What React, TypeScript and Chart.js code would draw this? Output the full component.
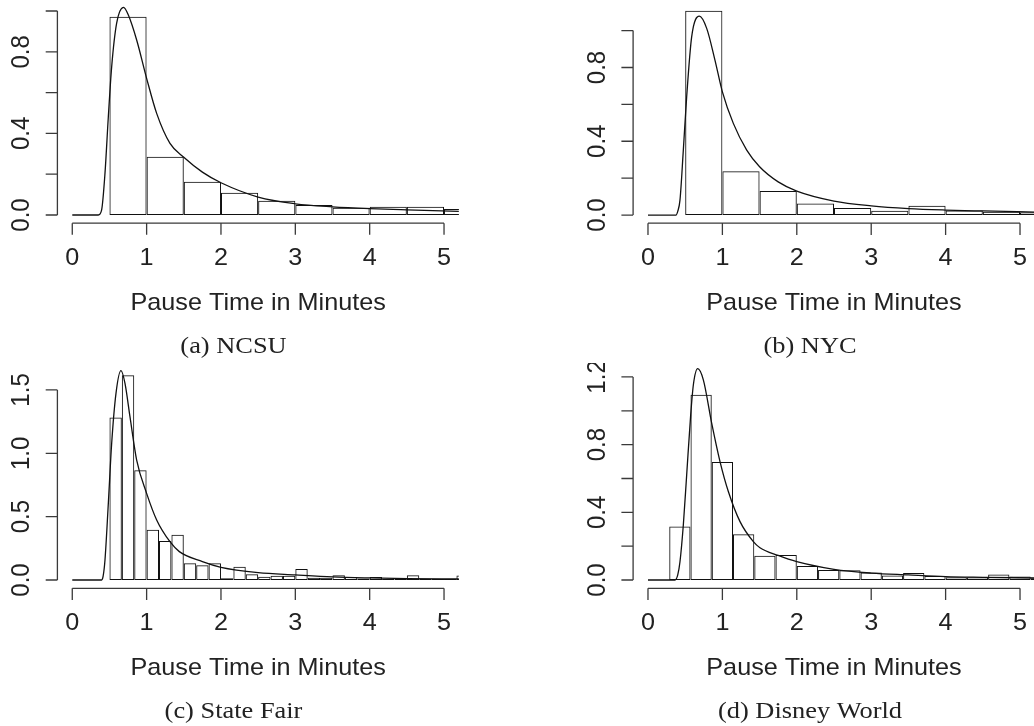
import React, { useEffect, useRef } from "react";
import { Chart, registerables } from "chart.js";

Chart.register(...registerables);

// ---------- shared axis data ----------
const X_MIN = -0.2;
const X_MAX = 5.2;
const xTicks = [0, 1, 2, 3, 4, 5];
const xTickLabels = ["0", "1", "2", "3", "4", "5"];
const xTitle = "Pause Time in Minutes";

// ---------- (a) NCSU ----------
const ncsuBinWidth = 0.5;
const ncsuBinStarts = [0.5, 1.0, 1.5, 2.0, 2.5, 3.0, 3.5, 4.0, 4.5, 5.0];
const ncsuDensity = [0.972, 0.286, 0.163, 0.109, 0.07, 0.049, 0.036, 0.041, 0.041, 0.03];
const ncsuCurveX = [0, 0.35, 0.395, 0.44, 0.485, 0.53, 0.597, 0.69, 0.754, 0.866, 1.0, 1.135, 1.314, 1.5, 1.75, 2.0, 2.5, 3.0, 3.5, 4.0, 4.5, 5.2];
const ncsuCurveY = [0, 0, 0.025, 0.204, 0.482, 0.727, 0.94, 1.018, 0.98, 0.858, 0.67, 0.498, 0.351, 0.283, 0.21, 0.158, 0.088, 0.055, 0.04, 0.031, 0.025, 0.018];
const ncsuYTicks = [0, 0.2, 0.4, 0.6, 0.8, 1.0];
const ncsuYLabels = ["0.0", "", "0.4", "", "0.8", ""];

// ---------- (b) NYC ----------
const nycBinWidth = 0.5;
const nycBinStarts = [0.5, 1.0, 1.5, 2.0, 2.5, 3.0, 3.5, 4.0, 4.5, 5.0];
const nycDensity = [1.107, 0.238, 0.13, 0.063, 0.038, 0.023, 0.05, 0.025, 0.018, 0.015];
const nycCurveX = [0, 0.376, 0.4, 0.43, 0.475, 0.52, 0.587, 0.69, 0.789, 0.9, 1.0, 1.147, 1.327, 1.5, 1.75, 2.0, 2.5, 3.0, 3.5, 4.0, 4.5, 5.2];
const nycCurveY = [0, 0, 0.02, 0.081, 0.352, 0.641, 0.966, 1.078, 1.012, 0.84, 0.668, 0.497, 0.352, 0.262, 0.18, 0.13, 0.076, 0.05, 0.035, 0.027, 0.022, 0.016];
const nycYTicks = [0, 0.2, 0.4, 0.6, 0.8, 1.0];
const nycYLabels = ["0.0", "", "0.4", "", "0.8", ""];

// ---------- (c) State Fair ----------
const fairBinWidth = 1 / 6;
const fairDensity = [
  1.282, 1.616, 0.866, 0.397, 0.308, 0.358, 0.132, 0.116, 0.132,
  0.013, 0.105, 0.045, 0.026, 0.034, 0.034, 0.087, 0.018, 0.018,
  0.037, 0.024, 0.011, 0.024, 0.008, 0.008, 0.037, 0.008, 0.008,
  0.008, 0.036,
];
const fairFirstBreak = 0.5;
const fairCurveX = [0, 0.395, 0.415, 0.44, 0.485, 0.53, 0.588, 0.655, 0.709, 0.776, 0.866, 1.0, 1.135, 1.314, 1.44, 1.75, 2.0, 2.5, 3.0, 3.5, 4.0, 4.5, 5.2];
const fairCurveY = [0, 0, 0.03, 0.158, 0.605, 1.079, 1.473, 1.652, 1.552, 1.289, 0.947, 0.684, 0.474, 0.302, 0.224, 0.145, 0.1, 0.058, 0.04, 0.024, 0.016, 0.011, 0.008];
const fairYTicks = [0, 0.5, 1.0, 1.5];
const fairYLabels = ["0.0", "0.5", "1.0", "1.5"];

// ---------- (d) Disney World ----------
const disneyBinWidth = 2 / 7;
const disneyFirstBreak = 2 / 7;
const disneyDensity = [
  0.316, 1.095, 0.698, 0.27, 0.144, 0.148, 0.083, 0.059, 0.057,
  0.045, 0.026, 0.041, 0.024, 0.016, 0.016, 0.032, 0.02, 0.01,
];
const disneyCurveX = [0, 0.363, 0.4, 0.43, 0.475, 0.52, 0.574, 0.61, 0.668, 0.744, 0.856, 0.968, 1.08, 1.237, 1.416, 1.505, 1.75, 2.0, 2.5, 3.0, 3.5, 4.0, 4.5, 5.2];
const disneyCurveY = [0, 0, 0.03, 0.108, 0.325, 0.621, 0.976, 1.154, 1.249, 1.183, 0.927, 0.7, 0.523, 0.345, 0.227, 0.191, 0.145, 0.108, 0.063, 0.041, 0.03, 0.02, 0.016, 0.012];
const disneyYTicks = [0, 0.2, 0.4, 0.6, 0.8, 1.0, 1.2];
const disneyYLabels = ["0.0", "", "0.4", "", "0.8", "", "1.2"];

// ---------- styles ----------
const SANS = '"Liberation Sans", Arial, Helvetica, sans-serif';
const SERIF = '"Liberation Serif", "Times New Roman", Times, serif';
const AXIS_COLOR = "#3a3a3a";
const INK = "#111";
const TEXT_COLOR = "#222";
const TICK_LEN = 11.7;
const FONT_PX = 24;
const CAP_PX = 24;
const H_STRETCH = 1.05;
const CAP_STRETCH = 1.1;

type PanelCfg = {
  left: number;
  top: number;
  width: number;
  height: number;
  pad: { left: number; right: number; top: number; bottom: number };
  yMin: number;
  yMax: number;
  binStarts: number[];
  binWidth: number;
  density: number[];
  curveX: number[];
  curveY: number[];
  yTicks: number[];
  yLabels: string[];
  caption: string;
  captionX: number;
};

const uniformStarts = (first: number, w: number, n: number) =>
  Array.from({ length: n }, (_, i) => first + i * w);

const panels: PanelCfg[] = [
  {
    left: 0, top: 0, width: 517, height: 363,
    pad: { left: 57.4, right: 58.1, top: 2.84, bottom: 139.84 },
    yMin: -0.04, yMax: 1.04,
    binStarts: ncsuBinStarts, binWidth: ncsuBinWidth, density: ncsuDensity,
    curveX: ncsuCurveX, curveY: ncsuCurveY,
    yTicks: ncsuYTicks, yLabels: ncsuYLabels,
    caption: "(a) NCSU", captionX: 233.5,
  },
  {
    left: 517, top: 0, width: 520, height: 363,
    pad: { left: 116.1, right: 2.1, top: 2.76, bottom: 139.8 },
    yMin: -0.0443, yMax: 1.151,
    binStarts: nycBinStarts, binWidth: nycBinWidth, density: nycDensity,
    curveX: nycCurveX, curveY: nycCurveY,
    yTicks: nycYTicks, yLabels: nycYLabels,
    caption: "(b) NYC", captionX: 293,
  },
  {
    left: 0, top: 363, width: 517, height: 363,
    pad: { left: 57.4, right: 58.1, top: 4.9, bottom: 137.7 },
    yMin: -0.0655, yMax: 1.674,
    binStarts: uniformStarts(fairFirstBreak, fairBinWidth, fairDensity.length),
    binWidth: fairBinWidth, density: fairDensity,
    curveX: fairCurveX, curveY: fairCurveY,
    yTicks: fairYTicks, yLabels: fairYLabels,
    caption: "(c) State Fair", captionX: 233.5,
  },
  {
    left: 517, top: 363, width: 520, height: 363,
    pad: { left: 116.1, right: 2.1, top: 4.9, bottom: 137.7 },
    yMin: -0.049, yMax: 1.2535,
    binStarts: uniformStarts(disneyFirstBreak, disneyBinWidth, disneyDensity.length),
    binWidth: disneyBinWidth, density: disneyDensity,
    curveX: disneyCurveX, curveY: disneyCurveY,
    yTicks: disneyYTicks, yLabels: disneyYLabels,
    caption: "(d) Disney World", captionX: 293,
  },
];

function stretchedText(ctx: CanvasRenderingContext2D, text: string, x: number, y: number, sx: number) {
  ctx.save();
  ctx.translate(x, y);
  ctx.scale(sx, 1);
  ctx.fillText(text, 0, 0);
  ctx.restore();
}

function makeAxesPlugin(p: PanelCfg) {
  return {
    id: "rAxes",
    afterDraw(chart: any) {
      const ctx: CanvasRenderingContext2D = chart.ctx;
      const xs = chart.scales.x;
      const ys = chart.scales.y;
      const axLeft = xs.getPixelForValue(X_MIN);
      const axBottom = ys.getPixelForValue(p.yMin);
      ctx.save();
      ctx.strokeStyle = AXIS_COLOR;
      ctx.lineWidth = 1.3;
      ctx.beginPath();
      // y axis
      ctx.moveTo(axLeft, ys.getPixelForValue(p.yTicks[0]));
      ctx.lineTo(axLeft, ys.getPixelForValue(p.yTicks[p.yTicks.length - 1]));
      p.yTicks.forEach((t) => {
        const y = ys.getPixelForValue(t);
        ctx.moveTo(axLeft - TICK_LEN, y);
        ctx.lineTo(axLeft, y);
      });
      // x axis
      ctx.moveTo(xs.getPixelForValue(xTicks[0]), axBottom);
      ctx.lineTo(xs.getPixelForValue(xTicks[xTicks.length - 1]), axBottom);
      xTicks.forEach((t) => {
        const x = xs.getPixelForValue(t);
        ctx.moveTo(x, axBottom);
        ctx.lineTo(x, axBottom + TICK_LEN);
      });
      ctx.stroke();

      ctx.fillStyle = TEXT_COLOR;
      ctx.font = `${FONT_PX}px ${SANS}`;
      ctx.textAlign = "center";
      ctx.textBaseline = "alphabetic";
      xTicks.forEach((t, i) => {
        stretchedText(ctx, xTickLabels[i], xs.getPixelForValue(t), axBottom + 41.8, H_STRETCH);
      });
      p.yTicks.forEach((t, i) => {
        const lab = p.yLabels[i];
        if (!lab) return;
        ctx.save();
        ctx.translate(axLeft - 28.1, ys.getPixelForValue(t));
        ctx.scale(H_STRETCH, 1);
        ctx.rotate(-Math.PI / 2);
        ctx.fillText(lab, 0, 0);
        ctx.restore();
      });
      stretchedText(ctx, xTitle, xs.getPixelForValue((X_MIN + X_MAX) / 2), axBottom + 86.8, H_STRETCH);
      ctx.font = `${CAP_PX}px ${SERIF}`;
      stretchedText(ctx, p.caption, p.captionX, axBottom + 129.5, CAP_STRETCH);
      ctx.restore();
    },
  };
}

function HistPanel({ cfg }: { cfg: PanelCfg }) {
  const ref = useRef<HTMLCanvasElement | null>(null);
  useEffect(() => {
    if (!ref.current) return;
    const bars = cfg.density.map((d, i) => ({ x: cfg.binStarts[i] + cfg.binWidth / 2, y: d }));
    const curve = cfg.curveX.map((x, i) => ({ x, y: cfg.curveY[i] }));
    const chart = new Chart(ref.current, {
      type: "bar",
      data: {
        datasets: [
          {
            type: "line",
            data: curve,
            borderColor: INK,
            borderWidth: 1.3,
            pointRadius: 0,
            fill: false,
            cubicInterpolationMode: "monotone",
          } as any,
          {
            type: "bar",
            data: bars,
            backgroundColor: "rgba(0,0,0,0)",
            borderColor: INK,
            borderWidth: 1,
            borderSkipped: false,
            barPercentage: 1,
            categoryPercentage: 1,
            inflateAmount: 0,
          } as any,
        ],
      },
      options: {
        responsive: false,
        animation: false,
        devicePixelRatio: 1,
        events: [],
        layout: { padding: cfg.pad },
        plugins: { legend: { display: false }, tooltip: { enabled: false }, title: { display: false } },
        scales: {
          x: { type: "linear", min: X_MIN, max: X_MAX, display: false, offset: false, grid: { display: false } },
          y: { type: "linear", min: cfg.yMin, max: cfg.yMax, display: false, grid: { display: false } },
        },
      } as any,
      plugins: [makeAxesPlugin(cfg)],
    });
    return () => chart.destroy();
  }, [cfg]);
  return (
    <canvas
      ref={ref}
      width={cfg.width}
      height={cfg.height}
      style={{ position: "absolute", left: cfg.left, top: cfg.top, width: cfg.width, height: cfg.height }}
    />
  );
}

export default function App() {
  return (
    <div
      style={{
        position: "absolute",
        left: 0,
        top: 0,
        width: 1034,
        height: 726,
        overflow: "hidden",
        background: "#fff",
      }}
    >
      {panels.map((p, i) => (
        <HistPanel key={i} cfg={p} />
      ))}
    </div>
  );
}
